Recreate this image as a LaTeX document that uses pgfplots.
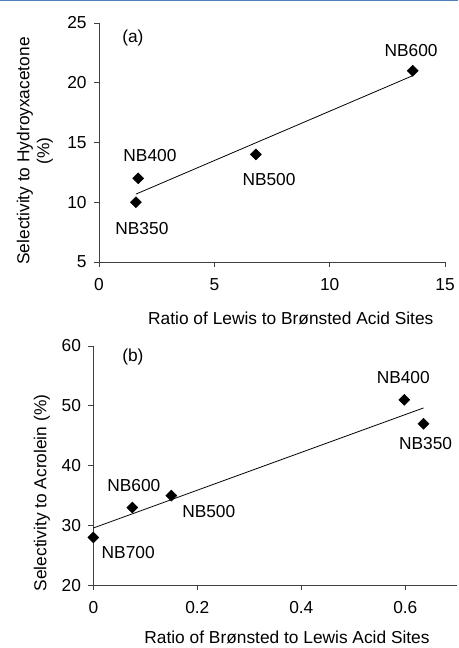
\documentclass[border=0pt]{standalone}
\usepackage{pgfplots}
\pgfplotsset{compat=1.18}
\usepackage{fontspec}
\setmainfont{Liberation Sans}
\definecolor{topblue}{RGB}{79,129,189}
\definecolor{axgray}{RGB}{64,64,64}
\newcommand{\fs}{\fontsize{13}{15}\selectfont}
\pgfplotsset{
  myaxis/.style={
    scale only axis,
    axis lines=left,
    axis line style={axgray,-},
    tick style={axgray,line width=0.6pt},
    tick align=outside,
    major tick length=3.75pt,
    every tick label/.append style={font=\fs},
    /pgf/number format/assume math mode=true,
    clip=false,
  },
  mk/.style={only marks, mark=square*, mark size=2.9pt, mark options={rotate=45,fill=black,draw=black}},
}
\begin{document}
\begin{tikzpicture}
\path[use as bounding box] (0pt,0pt) rectangle (343.5pt,486pt);
\draw[topblue,line width=1.2pt] (0pt,485.6pt) -- (343.5pt,485.6pt);
% panel (a)
\begin{axis}[myaxis,
  at={(74.25pt,289.5pt)}, anchor=south west, width=259.5pt, height=179.25pt,
  xmin=0, xmax=15, ymin=5, ymax=25,
  xtick={0,5,10,15}, ytick={5,10,15,20,25},
  yticklabel style={xshift=-2pt}, xticklabel style={yshift=-5pt},
]
\addplot[mk] coordinates {(1.6,10) (1.7,12) (6.8,14) (13.6,21)};
\addplot[black, line width=0.6pt] coordinates {(1.6,10.68) (13.6,20.59)};
\node[font=\fs] at (axis cs:1.47,23.74) {(a)};
\node[font=\fs] at (axis cs:13.53,22.66) {NB600};
\node[font=\fs] at (axis cs:2.21,13.95) {NB400};
\node[font=\fs] at (axis cs:7.37,11.86) {NB500};
\node[font=\fs] at (axis cs:1.86,7.76) {NB350};
\end{axis}
\node[rotate=90, align=center, font=\fontsize{13}{15}\selectfont] at (26.25pt,372.75pt) {Selectivity to Hydroyxacetone\\(\%)};
\node[font=\fs] at (218.1pt,247.5pt) {Ratio of Lewis to Brønsted Acid Sites};
% panel (b)
\begin{axis}[myaxis,
  at={(70pt,47pt)}, anchor=south west, width=273pt, height=179.5pt,
  xmin=0, xmax=0.7, ymin=20, ymax=60,
  xtick={0,0.2,0.4,0.6}, ytick={20,30,40,50,60},
  yticklabel style={xshift=-2pt}, xticklabel style={yshift=-5pt},
  xticklabel style={/pgf/number format/fixed,/pgf/number format/precision=1},
]
\addplot[mk] coordinates {(0,28) (0.075,33) (0.15,35) (0.598,51) (0.635,47)};
\addplot[black, line width=0.6pt] coordinates {(0,29.58) (0.635,49.65)};
\node[font=\fs] at (axis cs:0.076,58.16) {(b)};
\node[font=\fs] at (axis cs:0.596,54.65) {NB400};
\node[font=\fs] at (axis cs:0.639,43.78) {NB350};
\node[font=\fs] at (axis cs:0.078,36.76) {NB600};
\node[font=\fs] at (axis cs:0.222,32.41) {NB500};
\node[font=\fs] at (axis cs:0.067,25.55) {NB700};
\end{axis}
\node[rotate=90, font=\fs] at (31.5pt,116.25pt) {Selectivity to Acrolein (\%)};
\node[font=\fs] at (215.25pt,8.25pt) {Ratio of Brønsted to Lewis Acid Sites};
\end{tikzpicture}
\end{document}
